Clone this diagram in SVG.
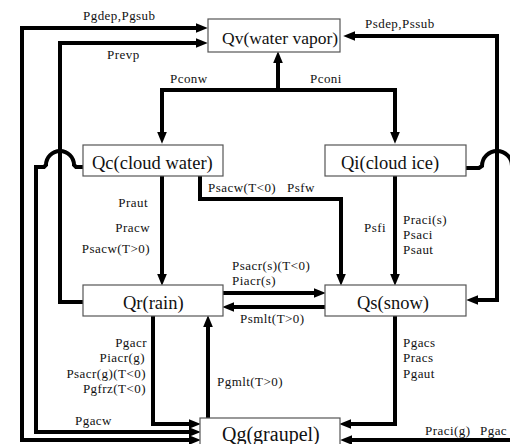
<svg xmlns="http://www.w3.org/2000/svg" width="510" height="444" viewBox="0 0 510 444">
<style>
.box{fill:#fff;stroke:#555;stroke-width:1.2}
.nt{font-family:"Liberation Serif","Times New Roman",serif;font-size:18.5px;fill:#111}
.lb{font-family:"Liberation Serif","Times New Roman",serif;font-size:13px;letter-spacing:0.45px;fill:#111}
.e{text-anchor:end}
.c{fill:none;stroke:#000;stroke-width:4;stroke-linejoin:miter}
.a1{marker-end:url(#ah)}
.a2{marker-start:url(#ah);marker-end:url(#ah)}
</style>
<defs>
<marker id="ah" markerUnits="userSpaceOnUse" markerWidth="12" markerHeight="10" refX="2" refY="4.5" orient="auto-start-reverse" viewBox="0 0 11 9">
<path d="M0,0 L11,4.5 L0,9 z" fill="#000"/>
</marker>
</defs>
<rect width="510" height="444" fill="#fff"/>
<g id="connectors">
<path class="c a2" d="M191,440 L22,440 L22,28 L198,28"/>
<path class="c a1" d="M83,302 L60,302 L60,43 L198,43"/>
<path class="c a1" d="M83,167 L76,167 L74,165 A14,14 0 0 0 46,165 L44,167 L36,167 L36,432 L191,432"/>
<path class="c a2" d="M162,134 L162,90 L395,90 L395,134"/>
<path class="c a1" d="M278,90 L278,61"/>
<path class="c a2" d="M353,36 L497,36 L497,300 L476,300"/>
<path class="c" d="M466,168 L479,168 L482,166 A15,15 0 0 1 512,166 L515,168 L530,168"/>
<path class="c a1" d="M530,440 L350,440"/>
<path class="c a1" d="M162,176 L162,276"/>
<path class="c a1" d="M200,176 L200,199 L341,199 L341,276"/>
<path class="c a1" d="M395,176 L395,276"/>
<path class="c a1" d="M223,293 L316,293"/>
<path class="c a1" d="M325,307 L232,307"/>
<path class="c a1" d="M153,316 L153,424 L191,424"/>
<path class="c a1" d="M208,418 L208,325"/>
<path class="c a1" d="M395,316 L395,424 L349,424"/>
</g>
<g id="Qv"><rect class="box" x="208" y="19" width="132" height="33"/><text class="nt" x="222" y="44" style="font-size:17.5px">Qv(water vapor)</text></g>
<g id="Qc"><rect class="box" x="83" y="145" width="140" height="31"/><text class="nt" x="92" y="169">Qc(cloud water)</text></g>
<g id="Qi"><rect class="box" x="325" y="145" width="141" height="31"/><text class="nt" x="341" y="169">Qi(cloud ice)</text></g>
<g id="Qr"><rect class="box" x="83" y="285" width="140" height="31"/><text class="nt" x="123" y="309">Qr(rain)</text></g>
<g id="Qs"><rect class="box" x="325" y="285" width="141" height="31"/><text class="nt" x="357" y="309">Qs(snow)</text></g>
<g id="Qg"><rect class="box" x="200" y="418" width="140" height="40"/><text class="nt" x="222" y="441" style="font-size:20px">Qg(graupel)</text></g>
<g id="labels">
<text class="lb" x="83" y="20">Pgdep,Pgsub</text>
<text class="lb" x="107" y="59">Prevp</text>
<text class="lb" x="170" y="83">Pconw</text>
<text class="lb" x="310" y="83">Pconi</text>
<text class="lb" x="365" y="28">Psdep,Pssub</text>
<text class="lb" x="208" y="192">Psacw(T&lt;0)</text>
<text class="lb" x="287" y="192">Psfw</text>
<text class="lb e" x="148" y="207">Praut</text>
<text class="lb e" x="150" y="232">Pracw</text>
<text class="lb e" x="150" y="253">Psacw(T&gt;0)</text>
<text class="lb" x="364" y="232">Psfi</text>
<text class="lb" x="403" y="224">Praci(s)</text>
<text class="lb" x="403" y="239">Psaci</text>
<text class="lb" x="403" y="254">Psaut</text>
<text class="lb" x="232" y="270">Psacr(s)(T&lt;0)</text>
<text class="lb" x="232" y="285">Piacr(s)</text>
<text class="lb" x="240" y="323">Psmlt(T&gt;0)</text>
<text class="lb e" x="147" y="347">Pgacr</text>
<text class="lb e" x="145" y="362">Piacr(g)</text>
<text class="lb e" x="146" y="378">Psacr(g)(T&lt;0)</text>
<text class="lb e" x="146" y="393">Pgfrz(T&lt;0)</text>
<text class="lb" x="217" y="386">Pgmlt(T&gt;0)</text>
<text class="lb" x="403" y="347">Pgacs</text>
<text class="lb" x="403" y="362">Pracs</text>
<text class="lb" x="403" y="378">Pgaut</text>
<text class="lb" x="75" y="425">Pgacw</text>
<text class="lb" x="425" y="435">Praci(g)</text>
<text class="lb" x="480" y="435">Pgac</text>
</g>
</svg>
